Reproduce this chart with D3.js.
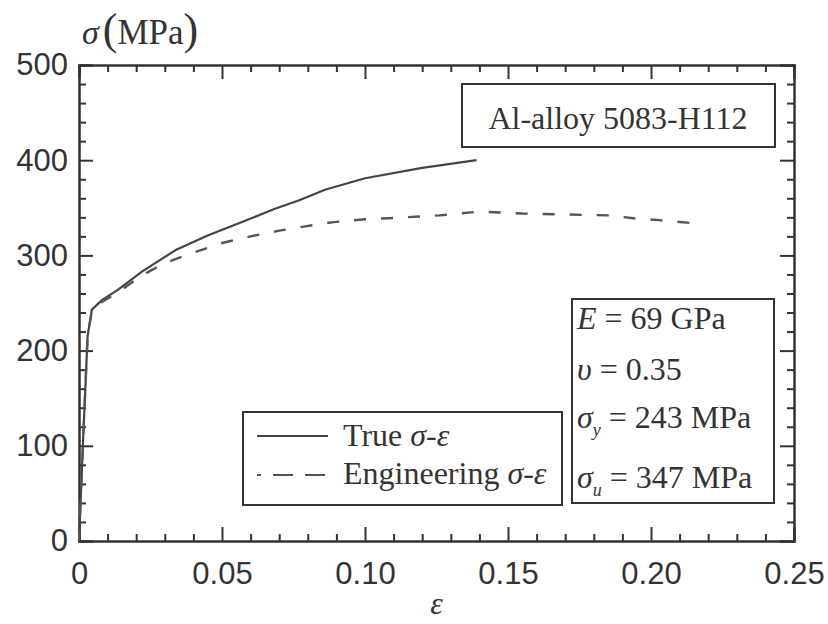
<!DOCTYPE html>
<html>
<head>
<meta charset="utf-8">
<script src="https://cdn.jsdelivr.net/npm/d3@7.9.0/dist/d3.min.js"></script>
<style>
  body { margin: 0; background: #fff; }
  svg { display: block; }
  .tick text { font-family: "Liberation Sans", Arial, sans-serif; font-size: 31px; fill: #333; }
  .domain, .tick line { stroke: #333; stroke-width: 2; }
  .serif { font-family: "Liberation Serif", "Times New Roman", serif; fill: #333; }
</style>
</head>
<body>
<svg width="828" height="624"></svg>
<script>
// strain (eps) and stress (MPa)
const trueStrain = [0, 0.0015, 0.003, 0.0045, 0.008, 0.0137, 0.022, 0.034, 0.045, 0.057, 0.0685, 0.077, 0.086, 0.1, 0.12, 0.139];
const trueStress = [0, 110, 215, 243, 253, 264, 283, 306, 321, 335, 349, 358, 369, 381, 392, 400];

const engStrain = [0, 0.0015, 0.003, 0.0045, 0.008, 0.014, 0.022, 0.030, 0.040, 0.050, 0.060, 0.070, 0.078, 0.089, 0.1, 0.108, 0.126, 0.14, 0.155, 0.17, 0.185, 0.194, 0.203, 0.214];
const engStress = [0, 110, 215, 242, 251, 262, 279, 292, 303, 313, 320, 326, 330, 335, 338, 339, 342, 346, 344, 343, 342, 339, 337, 334];

const xTicks = [0, 0.05, 0.10, 0.15, 0.20, 0.25];
const yTicks = [0, 100, 200, 300, 400, 500];

const props = [
  ['E', '', ' = 69 GPa'],
  ['\u03C5', '', ' = 0.35'],
  ['\u03C3', 'y', ' = 243 MPa'],
  ['\u03C3', 'u', ' = 347 MPa']
];

const svg = d3.select('svg');
svg.append('rect').attr('width', 828).attr('height', 624).attr('fill', '#fff');

const pLeft = 79, pRight = 794, pTop = 65, pBottom = 541;

const x = d3.scaleLinear().domain([0, 0.25]).range([pLeft, pRight]);
const y = d3.scaleLinear().domain([0, 500]).range([pBottom, pTop]);

const xMinor = d3.range(0, 0.2501, 0.01).filter(v => Math.abs(v / 0.05 - Math.round(v / 0.05)) > 1e-6);
const yMinor = d3.range(0, 501, 20).filter(v => v % 100 !== 0);

const fmtX = d => d === 0 ? '0' : d3.format('.2f')(d);

// minor ticks on all four sides
svg.append('g').attr('transform', `translate(0,${pBottom})`)
  .call(d3.axisBottom(x).tickValues(xMinor).tickSize(-7).tickFormat(''));
svg.append('g').attr('transform', `translate(0,${pTop})`)
  .call(d3.axisTop(x).tickValues(xMinor).tickSize(-7).tickFormat(''));
svg.append('g').attr('transform', `translate(${pLeft},0)`)
  .call(d3.axisLeft(y).tickValues(yMinor).tickSize(-7).tickFormat(''));
svg.append('g').attr('transform', `translate(${pRight},0)`)
  .call(d3.axisRight(y).tickValues(yMinor).tickSize(-7).tickFormat(''));

// major ticks
svg.append('g').attr('transform', `translate(0,${pBottom})`)
  .call(d3.axisBottom(x).tickValues(xTicks).tickSize(-14).tickPadding(21).tickFormat(fmtX));
svg.append('g').attr('transform', `translate(0,${pTop})`)
  .call(d3.axisTop(x).tickValues(xTicks).tickSize(-14).tickFormat(''));
svg.append('g').attr('transform', `translate(${pLeft},0)`)
  .call(d3.axisLeft(y).tickValues(yTicks).tickSize(-14).tickPadding(11));
svg.append('g').attr('transform', `translate(${pRight},0)`)
  .call(d3.axisRight(y).tickValues(yTicks).tickSize(-14).tickFormat(''));

svg.selectAll('.domain').attr('stroke-width', 2.5);

// curves
const line = d3.line().x(d => x(d[0])).y(d => y(d[1]));

svg.append('path')
  .datum(trueStrain.map((e, i) => [e, trueStress[i]]))
  .attr('d', line)
  .attr('fill', 'none')
  .attr('stroke', '#444')
  .attr('stroke-width', 2.2);

svg.append('path')
  .datum(engStrain.map((e, i) => [e, engStress[i]]))
  .attr('d', line)
  .attr('fill', 'none')
  .attr('stroke', '#555')
  .attr('stroke-width', 2.4)
  .attr('stroke-dasharray', '12,15');

// axis titles
const yt = svg.append('text').attr('class', 'serif').attr('x', 82).attr('y', 44);
yt.append('tspan').attr('font-style', 'italic').attr('font-size', 34).text('\u03C3');
yt.append('tspan').attr('font-size', 44).attr('dx', 4).text('(');
yt.append('tspan').attr('font-size', 35).text('MPa');
yt.append('tspan').attr('font-size', 44).text(')');

svg.append('text').attr('class', 'serif')
  .attr('x', (pLeft + pRight) / 2).attr('y', 614)
  .attr('text-anchor', 'middle')
  .attr('font-style', 'italic').attr('font-size', 32)
  .text('\u03B5');

// title box
svg.append('rect').attr('x', 462).attr('y', 84).attr('width', 313).attr('height', 63)
  .attr('fill', '#fff').attr('stroke', '#333').attr('stroke-width', 2);
svg.append('text').attr('class', 'serif')
  .attr('x', 618).attr('y', 129).attr('text-anchor', 'middle').attr('font-size', 32)
  .text('Al-alloy 5083-H112');

// legend
svg.append('rect').attr('x', 243).attr('y', 412).attr('width', 319).attr('height', 93)
  .attr('fill', '#fff').attr('stroke', '#333').attr('stroke-width', 2);
svg.append('line').attr('x1', 257).attr('x2', 328).attr('y1', 436).attr('y2', 436)
  .attr('stroke', '#444').attr('stroke-width', 2);
svg.append('line').attr('x1', 257).attr('x2', 328).attr('y1', 475).attr('y2', 475)
  .attr('stroke', '#555').attr('stroke-width', 2)
  .attr('stroke-dasharray', '20,12').attr('stroke-dashoffset', 16);

const lt1 = svg.append('text').attr('class', 'serif').attr('x', 343).attr('y', 446).attr('font-size', 32);
lt1.append('tspan').text('True ');
lt1.append('tspan').attr('font-style', 'italic').text('\u03C3');
lt1.append('tspan').text('-');
lt1.append('tspan').attr('font-style', 'italic').text('\u03B5');

const lt2 = svg.append('text').attr('class', 'serif').attr('x', 343).attr('y', 484).attr('font-size', 32);
lt2.append('tspan').text('Engineering ');
lt2.append('tspan').attr('font-style', 'italic').text('\u03C3');
lt2.append('tspan').text('-');
lt2.append('tspan').attr('font-style', 'italic').text('\u03B5');

// material properties
svg.append('rect').attr('x', 572).attr('y', 299).attr('width', 202).attr('height', 204)
  .attr('fill', '#fff').attr('stroke', '#333').attr('stroke-width', 2);
const baselines = [329, 380, 428, 488];
props.forEach((p, i) => {
  const t = svg.append('text').attr('class', 'serif')
    .attr('x', 577).attr('y', baselines[i]).attr('font-size', 32);
  t.append('tspan').attr('font-style', 'italic').text(p[0]);
  if (p[1]) {
    t.append('tspan').attr('font-style', 'italic').attr('font-size', 18)
      .attr('dy', 8).text(p[1]);
    t.append('tspan').attr('dy', -8).text(p[2]);
  } else {
    t.append('tspan').text(p[2]);
  }
});
</script>
</body>
</html>
